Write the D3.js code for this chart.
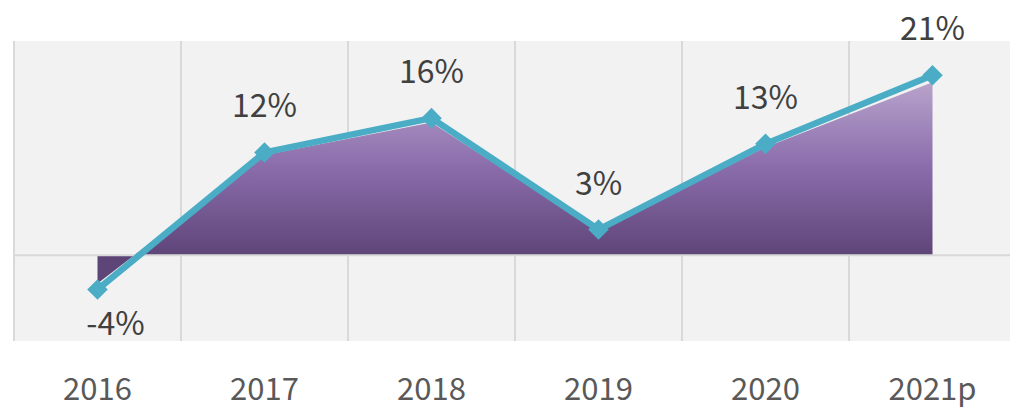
<!DOCTYPE html>
<html>
<head>
<meta charset="utf-8">
<script src="https://cdn.jsdelivr.net/npm/d3@7"></script>
<style>
    body { margin: 0; background: #fff; }
    .chart text { font-family: "Noto Sans CJK KR", "Noto Sans", sans-serif; }
</style>
</head>
<body>
<svg class="chart"></svg>
<script>
    var years = ["2016", "2017", "2018", "2019", "2020", "2021p"];
    var growth = [-4, 12, 16, 3, 13, 21];
    var areaValues = [-3.3, 11.7, 15.5, 2.8, 12.6, 20.2];
    var labels = ["-4%", "12%", "16%", "3%", "13%", "21%"];

    var width = 1010, height = 409;
    var plotLeft = 14, plotRight = 1016, plotTop = 41, plotBottom = 341;

    var chart = d3.select(".chart").attr("width", width).attr("height", height);

    var x = d3.scaleBand().domain(years).range([plotLeft, plotRight]).padding(0);
    var y = d3.scaleLinear().domain([-10, 25]).range([plotBottom, plotTop]);
    var cx = function (i) { return x(years[i]) + x.bandwidth() / 2; };

    // background
    chart.append("rect")
        .attr("x", plotLeft).attr("y", plotTop)
        .attr("width", width - plotLeft).attr("height", plotBottom - plotTop)
        .attr("fill", "#f2f2f2");

    // vertical grid at band edges
    chart.append("g").selectAll("line")
        .data(years)
        .enter().append("line")
        .attr("x1", function (d) { return x(d); })
        .attr("x2", function (d) { return x(d); })
        .attr("y1", plotTop).attr("y2", plotBottom)
        .attr("stroke", "#d9d9d9").attr("stroke-width", 2);

    // gradient
    var defs = chart.append("defs");
    var grad = defs.append("linearGradient")
        .attr("id", "fillGrad")
        .attr("gradientUnits", "userSpaceOnUse")
        .attr("x1", 0).attr("x2", 0)
        .attr("y1", y(20.5)).attr("y2", y(0));
    grad.append("stop").attr("offset", "0%").attr("stop-color", "#b9a5cc");
    grad.append("stop").attr("offset", "50%").attr("stop-color", "#8a6cab");
    grad.append("stop").attr("offset", "100%").attr("stop-color", "#5e4578");

    var area = d3.area()
        .x(function (d, i) { return cx(i); })
        .y0(y(0))
        .y1(function (d) { return y(d); });

    chart.append("path")
        .datum(areaValues)
        .attr("d", area)
        .attr("fill", "url(#fillGrad)");

    // zero line
    chart.append("line")
        .attr("x1", plotLeft).attr("x2", width)
        .attr("y1", y(0)).attr("y2", y(0))
        .attr("stroke", "#d9d9d9").attr("stroke-width", 2);

    // line
    var line = d3.line()
        .x(function (d, i) { return cx(i); })
        .y(function (d) { return y(d); });

    chart.append("path")
        .datum(growth)
        .attr("d", line)
        .attr("fill", "none")
        .attr("stroke", "#4bacc6")
        .attr("stroke-width", 6.5);

    chart.append("g").selectAll("path")
        .data(growth)
        .enter().append("path")
        .attr("d", d3.symbol().type(d3.symbolDiamond2).size(270))
        .attr("transform", function (d, i) { return "translate(" + cx(i) + "," + y(d) + ")"; })
        .attr("fill", "#4bacc6");

    // value labels
    chart.append("g").selectAll("text")
        .data(growth)
        .enter().append("text")
        .attr("x", function (d, i) { return cx(i) + (d < 0 ? 18 : 0); })
        .attr("y", function (d) { return d < 0 ? y(d) + 45 : y(d) - 35; })
        .attr("text-anchor", "middle")
        .attr("font-size", 32)
        .attr("fill", "#404040")
        .text(function (d, i) { return labels[i]; });

    // x axis
    var axisX = d3.axisBottom(x).tickSize(0).tickPadding(0);
    var gx = chart.append("g")
        .attr("transform", "translate(0," + 372 + ")")
        .call(axisX);
    gx.select(".domain").remove();
    gx.selectAll("text")
        .attr("font-size", 31)
        .attr("fill", "#595959")
        .attr("dy", "0.9em")
        .style("font-family", "'Noto Sans CJK KR', 'Noto Sans', sans-serif");
</script>
</body>
</html>
